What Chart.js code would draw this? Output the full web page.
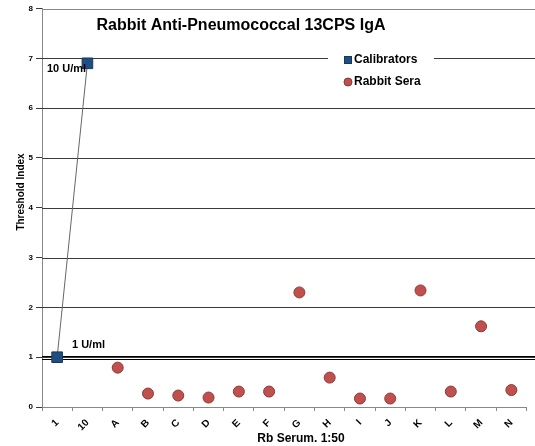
<!DOCTYPE html>
<html>
<head>
<meta charset="utf-8">
<script src="https://cdn.jsdelivr.net/npm/chart.js@4"></script>
<style>
  body { margin: 0; background: #fff; }
  canvas { display: block; }
</style>
</head>
<body>
<canvas id="chart" width="535" height="446"></canvas>
<script>
// categories on the x axis
let categories = ['1', '10', 'A', 'B', 'C', 'D', 'E', 'F', 'G', 'H', 'I', 'J', 'K', 'L', 'M', 'N'];
// calibrator readings (1 U/ml and 10 U/ml)
let calibrators = [1.0, 6.9, null, null, null, null, null, null, null, null, null, null, null, null, null, null];
// rabbit sera
let rabbitSera = [null, null, 0.79, 0.27, 0.23, 0.19, 0.31, 0.31, 2.30, 0.59, 0.17, 0.17, 2.34, 0.31, 1.62, 0.34];
let yTicks = [0, 1, 2, 3, 4, 5, 6, 7, 8];

const FONT = 'Liberation Sans, Arial, sans-serif';

const extras = {
    id: 'extras',
    beforeDatasetsDraw(chart) {
        const ctx = chart.ctx, a = chart.chartArea, ys = chart.scales.y;
        ctx.save();
        // grid lines run on to the edge of the picture
        ctx.lineWidth = 1;
        yTicks.forEach(v => {
            if (v === 0) return;
            const p = Math.round(ys.getPixelForValue(v)) + 0.5;
            ctx.strokeStyle = v === 8 ? '#888' : '#3a3a3a';
            ctx.beginPath();
            ctx.moveTo(a.left, p); ctx.lineTo(535, p);
            ctx.stroke();
        });
        // double line at 1 U/ml
        const y = Math.round(ys.getPixelForValue(1)) + 0.5;
        ctx.strokeStyle = '#000';
        ctx.beginPath();
        ctx.moveTo(a.left, y - 1); ctx.lineTo(535, y - 1);
        ctx.moveTo(a.left, y + 2); ctx.lineTo(535, y + 2);
        ctx.stroke();
        ctx.restore();
    },
    afterDraw(chart) {
        const ctx = chart.ctx;
        ctx.save();
        ctx.fillStyle = '#000';
        ctx.textBaseline = 'middle';

        // title
        ctx.textAlign = 'center';
        ctx.font = 'bold 16px ' + FONT;
        ctx.fillText('Rabbit Anti-Pneumococcal 13CPS IgA', 241, 26);

        // axis titles
        ctx.font = 'bold 12px ' + FONT;
        ctx.fillText('Rb Serum. 1:50', 301, 439);
        ctx.save();
        ctx.translate(21, 192);
        ctx.rotate(-Math.PI / 2);
        ctx.font = 'bold 10px ' + FONT;
        ctx.fillText('Threshold Index', 0, 0);
        ctx.restore();

        // calibrator labels
        ctx.textAlign = 'left';
        ctx.font = 'bold 11px ' + FONT;
        ctx.fillText('10 U/ml', 47, 69);
        ctx.fillText('1 U/ml', 72, 345);

        // legend
        ctx.fillStyle = '#fff';
        ctx.fillRect(328, 44, 106, 50);
        ctx.fillStyle = '#1F4E82';
        ctx.strokeStyle = '#17375E';
        ctx.fillRect(344, 56, 8, 8);
        ctx.strokeRect(344.5, 56.5, 7, 7);
        ctx.fillStyle = '#C0504D';
        ctx.strokeStyle = '#8C3836';
        ctx.beginPath();
        ctx.arc(348, 82, 4, 0, Math.PI * 2);
        ctx.fill();
        ctx.stroke();
        ctx.fillStyle = '#000';
        ctx.font = 'bold 12px ' + FONT;
        ctx.fillText('Calibrators', 354, 60);
        ctx.fillText('Rabbit Sera', 354, 82);
        ctx.restore();
    }
};

new Chart(document.getElementById('chart').getContext('2d'), {
    type: 'line',
    data: {
        labels: categories,
        datasets: [
            {
                label: 'Calibrators',
                data: calibrators,
                borderColor: '#666',
                borderWidth: 1,
                pointStyle: 'rect',
                pointRadius: 7.5,
                pointBackgroundColor: '#1F4E82',
                pointBorderColor: '#17375E',
                pointBorderWidth: 1,
                spanGaps: false
            },
            {
                label: 'Rabbit Sera',
                data: rabbitSera,
                showLine: false,
                pointStyle: 'circle',
                pointRadius: 5.5,
                pointBackgroundColor: '#C0504D',
                pointBorderColor: '#8C3836',
                pointBorderWidth: 1
            }
        ]
    },
    options: {
        responsive: false,
        animation: false,
        layout: { padding: { top: 7, right: 5, left: 0, bottom: 0 } },
        plugins: {
            legend: { display: false },
            tooltip: { enabled: false }
        },
        scales: {
            x: {
                offset: true,
                grid: { offset: true, drawOnChartArea: false, tickLength: 4, color: '#888' },
                border: { color: '#888' },
                ticks: {
                    maxRotation: 45, minRotation: 45, autoSkip: false, padding: 6,
                    color: '#000', font: { family: FONT, size: 10, weight: 'bold' }
                },
                afterFit: s => { s.height = 39; }
            },
            y: {
                min: 0, max: 8,
                afterBuildTicks: s => { s.ticks = yTicks.map(v => ({ value: v })); },
                grid: { color: '#3a3a3a', tickLength: 6, drawOnChartArea: false },
                border: { color: '#888' },
                ticks: {
                    color: '#000', padding: 3,
                    font: { family: FONT, size: 8, weight: 'bold' }
                },
                afterFit: s => { s.width = 42; }
            }
        }
    },
    plugins: [extras]
});
</script>
</body>
</html>
